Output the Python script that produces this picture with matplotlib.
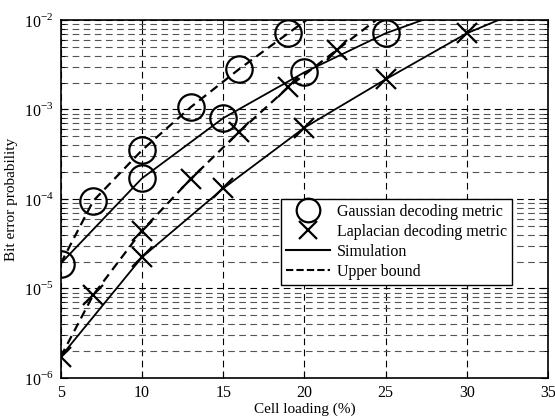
import numpy as np
import matplotlib.pyplot as plt
from matplotlib.lines import Line2D
from matplotlib.ticker import LogLocator, FuncFormatter

plt.rcParams['font.family'] = ['Liberation Serif', 'DejaVu Serif']
plt.rcParams['mathtext.fontset'] = 'custom'
plt.rcParams['mathtext.rm'] = 'Liberation Serif'

# Gaussian decoding metric
gauss_sim_x = [5, 10, 15, 20, 25, 28.5]
gauss_sim_y = [1.9e-5, 1.7e-4, 8.0e-4, 2.6e-3, 7.1e-3, 1.2e-2]
gauss_sim_mark = [0, 1, 2, 3, 4]
gauss_ub_x = [5, 7, 10, 13, 16, 19, 21]
gauss_ub_y = [1.9e-5, 9.5e-5, 3.5e-4, 1.06e-3, 2.84e-3, 7.1e-3, 1.3e-2]
gauss_ub_mark = [1, 2, 3, 4, 5]

# Laplacian decoding metric
lap_sim_x = [5, 10, 15, 20, 25, 30, 33]
lap_sim_y = [1.73e-6, 2.23e-5, 1.31e-4, 6.26e-4, 2.17e-3, 7.1e-3, 1.2e-2]
lap_sim_mark = [0, 1, 2, 3, 4, 5]
lap_ub_x = [5, 7, 10, 13, 16, 19, 22, 25]
lap_ub_y = [1.73e-6, 8.45e-6, 4.43e-5, 1.67e-4, 5.65e-4, 1.77e-3, 4.63e-3, 1.2e-2]
lap_ub_mark = [1, 2, 3, 4, 5, 6]

xticks = [5, 10, 15, 20, 25, 30, 35]

fig = plt.figure(figsize=(5.55, 4.18), dpi=100)
ax = fig.add_axes([0.1094, 0.0957, 0.8780, 0.8565])

ms_o, ms_x, mew = 19, 14, 1.6
ax.plot(gauss_sim_x, gauss_sim_y, '-', color='k', lw=1.3, marker='o', ms=ms_o,
        mfc='none', mec='k', mew=mew, markevery=gauss_sim_mark)
ax.plot(gauss_ub_x, gauss_ub_y, '--', color='k', lw=1.6, dashes=(4, 2.5), marker='o', ms=ms_o,
        mfc='none', mec='k', mew=mew, markevery=gauss_ub_mark)
ax.plot(lap_sim_x, lap_sim_y, '-', color='k', lw=1.3, marker='x', ms=ms_x,
        mec='k', mew=mew, markevery=lap_sim_mark)
ax.plot(lap_ub_x, lap_ub_y, '--', color='k', lw=1.6, dashes=(4, 2.5), marker='x', ms=ms_x,
        mec='k', mew=mew, markevery=lap_ub_mark)

ax.set_yscale('log')
ax.set_xlim(5, 35)
ax.set_ylim(1e-6, 1e-2)
ax.set_xticks(xticks)
ax.yaxis.set_major_locator(LogLocator(base=10, numticks=10))
ax.yaxis.set_minor_locator(LogLocator(base=10, subs=np.arange(2, 10), numticks=10))
ax.yaxis.set_major_formatter(FuncFormatter(lambda v, p: r'$10^{%d}$' % round(np.log10(v))))
ax.yaxis.set_minor_formatter(FuncFormatter(lambda v, p: ''))

ax.grid(True, which='major', axis='both', color='k', ls=(0, (6, 4)), lw=0.8)
ax.grid(True, which='minor', axis='y', color='#555555', ls=(0, (6, 4)), lw=0.8)
ax.tick_params(which='both', direction='in', top=True, right=True, labelsize=11.5)
ax.tick_params(which='major', length=5, pad=5)
ax.tick_params(which='minor', length=3)
for s in ax.spines.values():
    s.set_linewidth(1.2)

ax.set_xlabel('Cell loading (%)', fontsize=11, labelpad=1)
ax.set_ylabel('Bit error probability', fontsize=11, labelpad=4)

handles = [
    Line2D([], [], ls='none', marker='o', ms=17, mfc='none', mec='k', mew=mew),
    Line2D([], [], ls='none', marker='x', ms=13, mec='k', mew=mew),
    Line2D([], [], ls='-', color='k', lw=1.5),
    Line2D([], [], ls='--', color='k', lw=1.5, dashes=(3.5, 1.5)),
]
labels = ['Gaussian decoding metric', 'Laplacian decoding metric', 'Simulation', 'Upper bound']
leg = ax.legend(handles, labels, loc='upper left', bbox_to_anchor=(0.452, 0.5),
                fontsize=11.5, fancybox=False, framealpha=1, edgecolor='k',
                handlelength=2.8, handletextpad=0.4, labelspacing=0.25, borderpad=0.3,
                borderaxespad=0)
leg.get_frame().set_linewidth(1.0)

fig.savefig('out.png', dpi=100)
